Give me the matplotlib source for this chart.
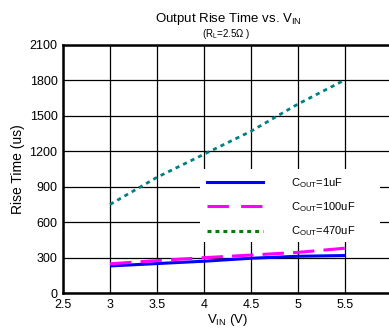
import matplotlib
matplotlib.use("Agg")
import matplotlib.pyplot as plt
from matplotlib.lines import Line2D
from matplotlib.patches import Rectangle

plt.rcParams['font.family'] = ['Liberation Sans', 'DejaVu Sans']
plt.rcParams['mathtext.fontset'] = 'custom'
plt.rcParams['mathtext.rm'] = 'Liberation Sans'
plt.rcParams['mathtext.it'] = 'Liberation Sans'

vin = [3.0, 3.5, 4.0, 4.5, 5.0, 5.5]
rise_1uf = [230, 250, 270, 295, 312, 318]
rise_100uf = [248, 275, 300, 322, 345, 380]
rise_470uf = [750, 980, 1175, 1370, 1600, 1805]

xticks = [2.5, 3, 3.5, 4, 4.5, 5, 5.5, 6]
yticks = [0, 300, 600, 900, 1200, 1500, 1800, 2100]

fig = plt.figure(figsize=(3.89, 3.35), dpi=100)
ax = fig.add_axes([0.162, 0.125, 0.846, 0.741])

ax.plot(vin, rise_1uf, color='#0000ff', lw=2.2, solid_capstyle='butt')
ax.plot(vin, rise_100uf, color='#ff00ff', lw=2.2, dashes=(7, 3))
ax.plot(vin, rise_470uf, color='#008080', lw=2.0, dashes=(1.5, 1.5))

ax.set_xlim(2.5, 6)
ax.set_ylim(0, 2100)
ax.set_xticks(xticks)
ax.set_xticklabels([f"{t:g}" for t in xticks])
ax.set_yticks(yticks)
ax.grid(True, color='black', lw=0.9)
ax.tick_params(length=0, labelsize=9, pad=4)
for s in ['left', 'bottom', 'top']:
    ax.spines[s].set_linewidth(1.8)

ax.set_xlabel('V$_{\\mathrm{IN}}$ (V)', fontsize=9.5, labelpad=1)
ax.set_ylabel('Rise Time (us)', fontsize=10, labelpad=3)

fig.text(0.586, 0.935, 'Output Rise Time vs. V$_{\\mathrm{IN}}$', ha='center', fontsize=9.5)
fig.text(0.582, 0.889, '(R$_{\\mathrm{L}}$=2.5\u03a9 )', ha='center', fontsize=7)

# white legend background, wider than the entries
ax.add_patch(Rectangle((0.416, 0.205), 0.548, 0.295, transform=ax.transAxes,
                       facecolor='white', edgecolor='none', zorder=2.5))

handles = [
    Line2D([], [], color='#0000ff', lw=2.2),
    Line2D([], [], color='#ff00ff', lw=2.2, dashes=(7, 4)),
    Line2D([], [], color='#008000', lw=2.2, dashes=(1.3, 1.3)),
]
labels = ['C$_{\\mathrm{OUT}}$=1uF', 'C$_{\\mathrm{OUT}}$=100uF', 'C$_{\\mathrm{OUT}}$=470uF']
leg = ax.legend(handles, labels, loc='upper left', bbox_to_anchor=(0.425, 0.49),
                fontsize=8, frameon=False, handlelength=5.0, handletextpad=2.5,
                labelspacing=0.95, borderaxespad=0)

fig.savefig('out.png', dpi=100)
